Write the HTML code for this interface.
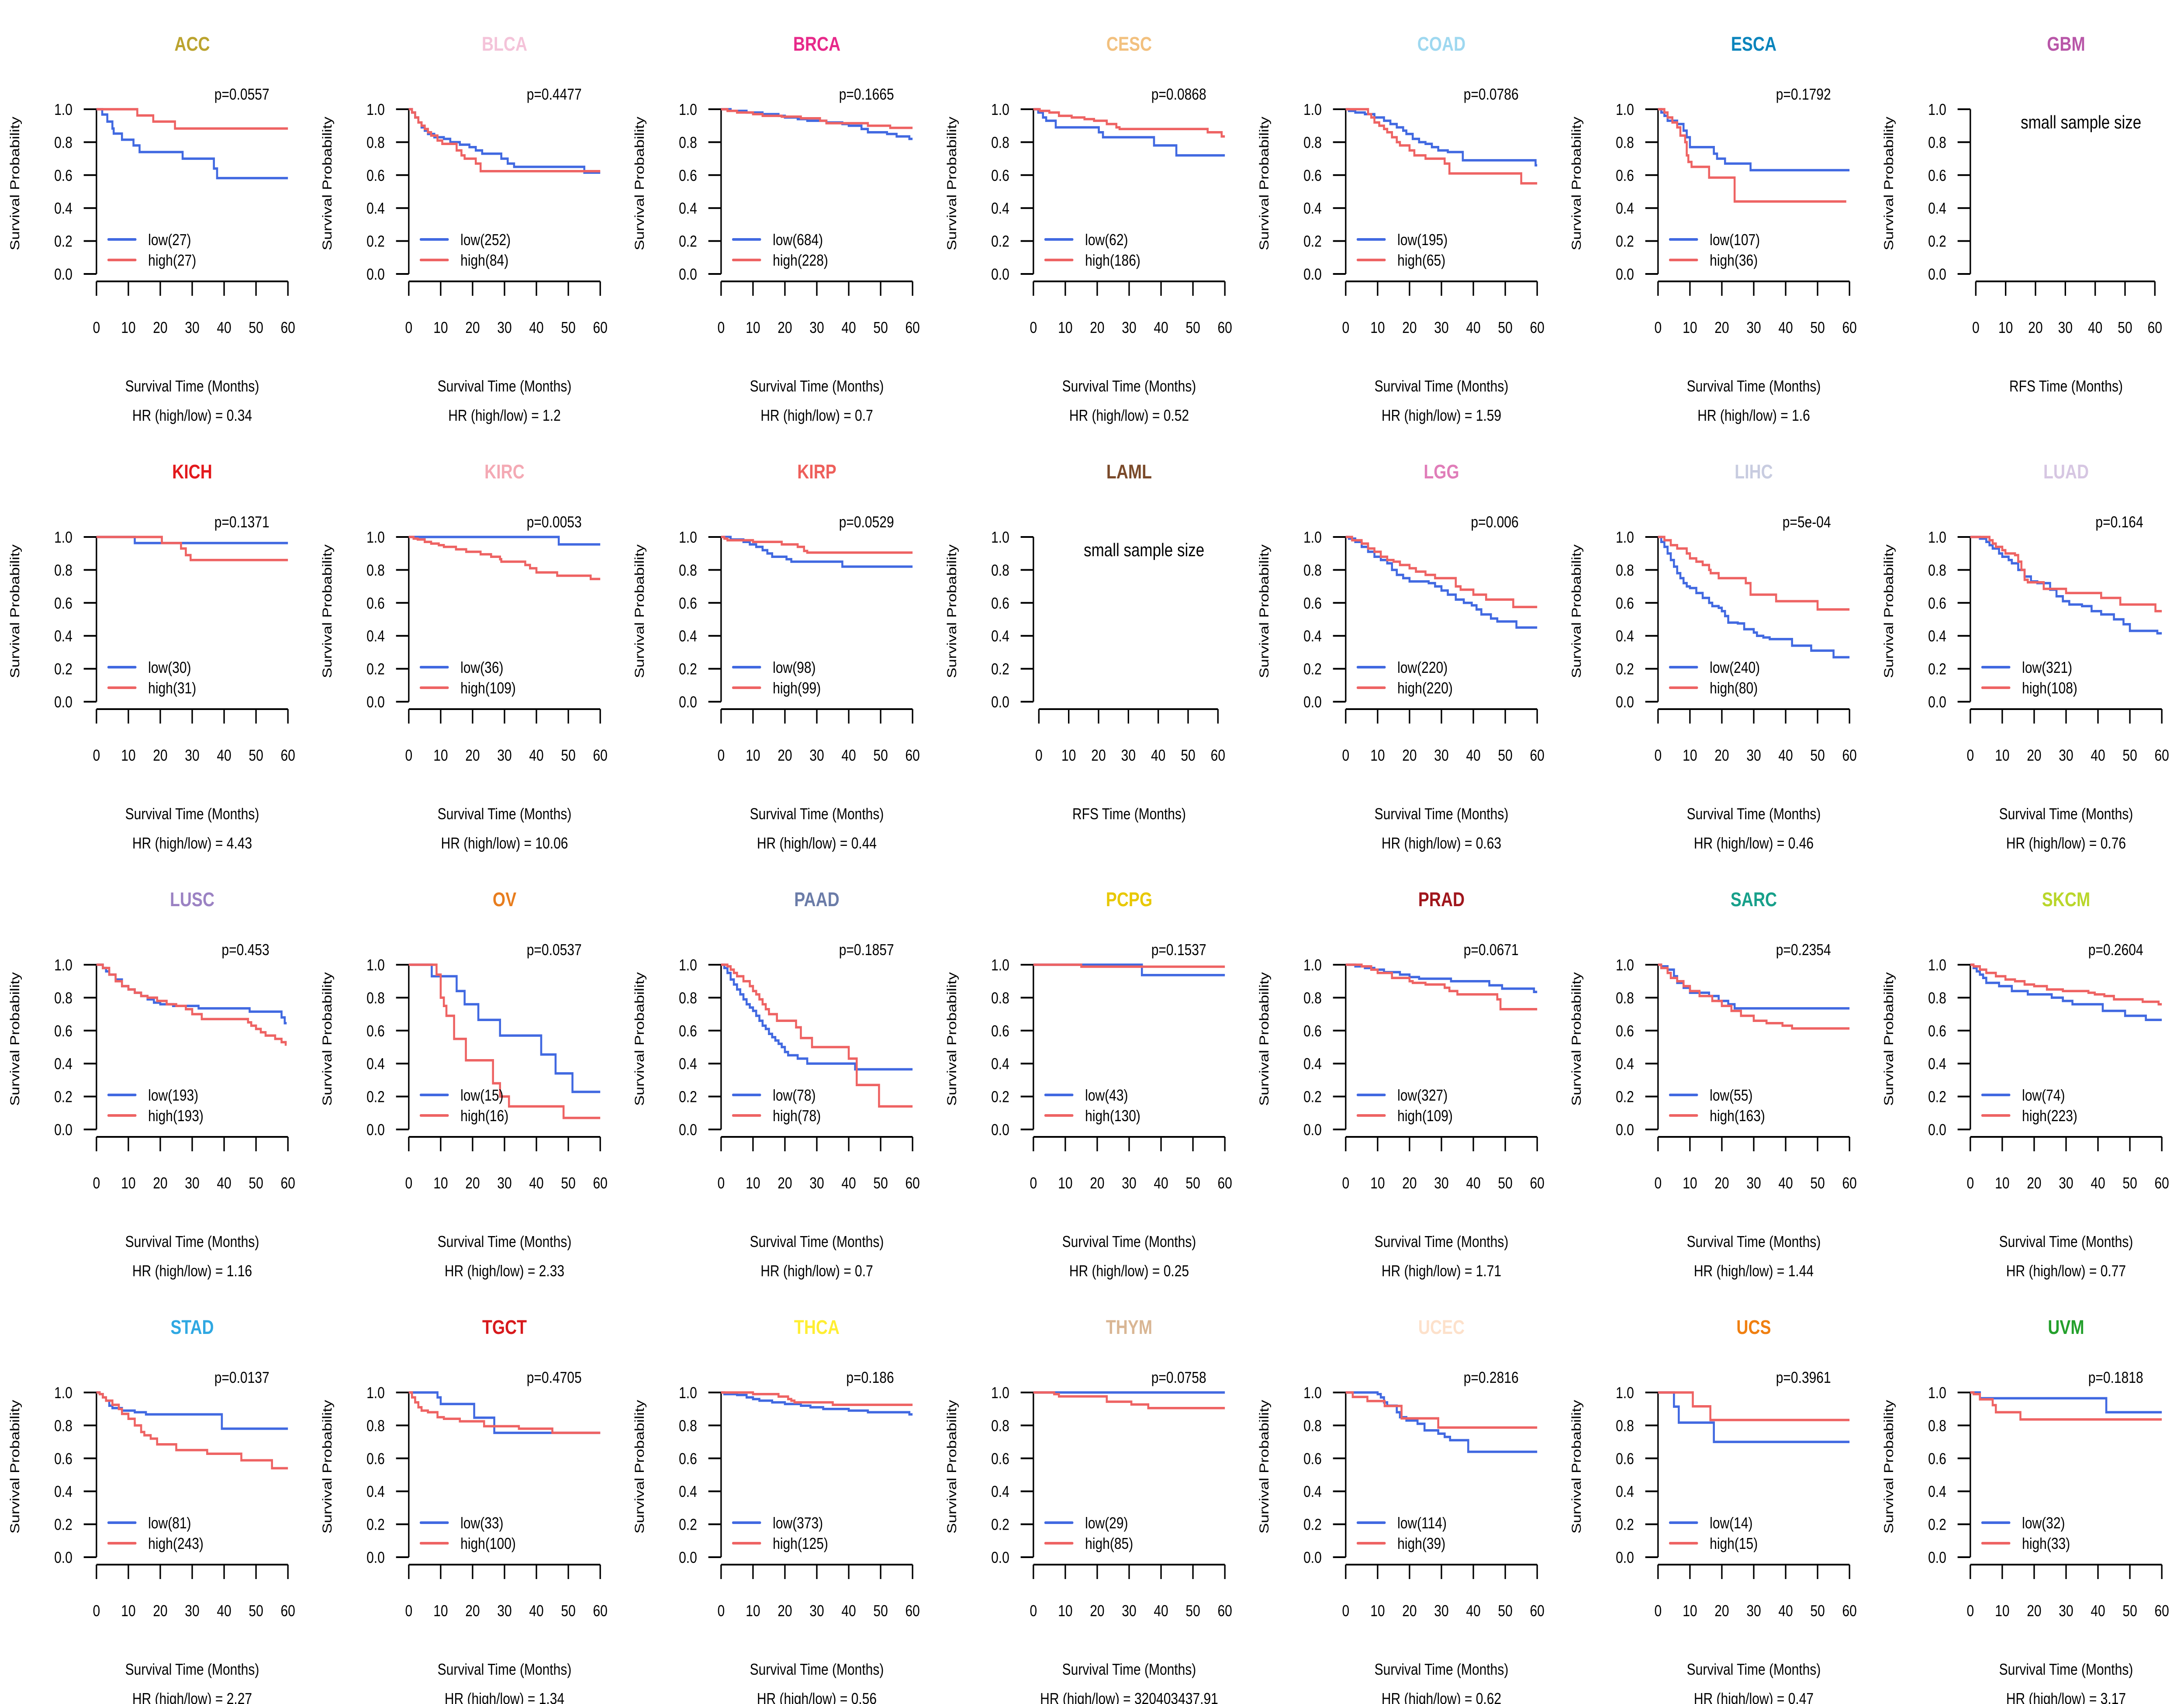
<!DOCTYPE html>
<html><head><meta charset="utf-8"><title>Survival curves</title>
<style>html,body{margin:0;padding:0;background:#fff;width:100%;height:100%;overflow:hidden}svg{display:block;width:100vw;height:100vh}text{font-family:"Liberation Sans",Arial,sans-serif}</style>
</head><body>
<svg id="chart" xmlns="http://www.w3.org/2000/svg" viewBox="0 0 6000 3900" preserveAspectRatio="none"></svg>
<script>
const cancers = ['ACC','BLCA','BRCA','CESC','COAD','ESCA','GBM','KICH','KIRC','KIRP','LAML','LGG','LIHC','LUAD','LUSC','OV','PAAD','PCPG','PRAD','SARC','SKCM','STAD','TGCT','THCA','THYM','UCEC','UCS','UVM'];
const titleColors = ['#BBA32E','#F4C3D9','#E7298A','#F2C07E','#9ED8F0','#0A84BC','#B856A8','#E3191C','#F4A9B4','#EE5F5B','#7A4A2A','#E07DB9','#C8CCE0','#D6C6E2','#9B82C3','#E87D1E','#6B7CA8','#E8C800','#A0161C','#17A08A','#B9D62A','#2FA8E2','#D7191C','#FFEE33','#D9B694','#FDE1CB','#F07F10','#24A02C'];
const pValues = ['0.0557','0.4477','0.1665','0.0868','0.0786','0.1792',null,'0.1371','0.0053','0.0529',null,'0.006','5e-04','0.164','0.453','0.0537','0.1857','0.1537','0.0671','0.2354','0.2604','0.0137','0.4705','0.186','0.0758','0.2816','0.3961','0.1818'];
const hrValues = ['0.34','1.2','0.7','0.52','1.59','1.6',null,'4.43','10.06','0.44',null,'0.63','0.46','0.76','1.16','2.33','0.7','0.25','1.71','1.44','0.77','2.27','1.34','0.56','320403437.91','0.62','0.47','3.17'];
const nLow = [27,252,684,62,195,107,null,30,36,98,null,220,240,321,193,15,78,43,327,55,74,81,33,373,29,114,14,32];
const nHigh = [27,84,228,186,65,36,null,31,109,99,null,220,80,108,193,16,78,130,109,163,223,243,100,125,85,39,15,33];
const xTicks = [0,10,20,30,40,50,60];
const yTicks = [0,0.2,0.4,0.6,0.8,1.0];
const lowCurves = [
 [[1.8,.968],[3.4,.925],[5,.883],[5.4,.852],[8,.815],[11.6,.78],[13.5,.74],[27,.70],[36.8,.64],[37.8,.582],[60,.582]],
 [[1,.98],[2,.95],[3,.92],[4,.89],[5,.87],[6,.85],[8,.83],[11,.82],[13,.80],[16,.785],[19,.77],[21,.75],[23,.73],[29,.70],[31,.67],[33,.65],[55,.615],[60,.615]],
 [[3,.99],[8,.98],[13,.97],[18,.96],[20,.95],[24,.94],[27,.93],[33,.92],[38,.91],[40,.90],[44,.88],[46,.86],[52,.85],[55,.835],[59,.82],[60,.82]],
 [[1.5,.98],[3,.95],[4,.93],[7,.89],[20.5,.86],[21.8,.83],[37.8,.78],[44.8,.72],[60,.72]],
 [[1,.99],[3,.98],[6,.97],[9,.95],[12,.93],[14,.91],[16,.89],[18,.87],[19,.85],[21,.82],[23,.80],[25,.79],[27,.77],[29,.75],[32,.74],[36.7,.69],[59.5,.66],[60,.66]],
 [[1,.98],[2,.96],[3,.93],[6,.91],[8,.87],[9,.83],[10,.77],[17.5,.73],[18.5,.70],[21,.67],[29,.63],[60,.63]],
 null,
 [[12,.963],[60,.963]],
 [[47,.955],[60,.955]],
 [[3,.985],[7,.97],[9,.955],[11,.94],[13,.92],[14.5,.90],[16,.88],[20.5,.865],[22,.85],[38,.82],[60,.82]],
 null,
 [[1,.99],[3,.97],[5,.94],[7,.91],[9,.88],[11,.86],[13,.84],[14.5,.80],[16,.77],[18,.75],[20,.73],[26,.72],[28,.70],[30,.675],[32,.65],[34.5,.62],[37,.60],[39.5,.585],[41,.56],[42.5,.53],[45.5,.505],[47.5,.487],[53.5,.45],[60,.45]],
 [[1,.97],[2,.94],[3,.90],[4,.86],[5,.82],[6,.78],[7,.75],[8,.72],[9,.70],[10,.69],[12,.66],[14,.63],[16,.60],[17,.58],[19,.57],[20,.55],[21,.52],[22,.48],[25,.475],[27,.44],[30,.42],[31,.40],[33,.39],[35,.38],[42,.34],[48,.31],[55,.27],[60,.27]],
 [[3,.99],[5,.97],[6,.95],[7,.93],[9,.90],[10,.88],[12,.86],[13,.84],[15,.80],[17,.76],[19,.73],[21,.72],[25,.68],[27,.64],[29,.61],[31,.59],[35,.58],[38,.55],[41,.53],[45,.50],[48,.47],[50,.43],[58.6,.415],[60,.415]],
 [[2,.98],[3,.96],[4,.94],[6,.91],[8,.87],[10,.85],[12,.83],[14,.81],[16,.79],[18,.77],[20,.76],[24,.75],[32,.735],[48,.715],[58,.68],[59,.645],[59.6,.645]],
 [[7.2,.93],[15,.84],[17.5,.76],[21.8,.665],[28.6,.57],[41.5,.455],[46,.34],[51.3,.228],[60,.228]],
 [[1,.98],[2,.95],[3,.91],[4,.88],[5,.85],[6,.82],[7,.79],[8,.76],[9,.74],[10,.72],[11,.69],[12,.66],[13,.63],[14,.61],[15,.58],[16,.56],[17,.54],[18,.52],[19,.50],[20,.47],[21,.45],[24,.43],[27,.40],[42,.365],[60,.365]],
 [[34,.937],[60,.937]],
 [[3,.99],[6,.98],[9,.97],[12,.955],[17,.94],[20,.925],[23,.915],[33,.90],[45,.875],[49,.855],[59,.835],[60,.835]],
 [[1,.99],[3,.97],[5,.93],[6,.89],[8,.86],[10,.83],[16,.81],[19,.78],[22,.76],[24,.735],[60,.735]],
 [[1,.98],[2,.96],[3,.94],[4,.92],[5,.89],[9,.87],[13,.84],[18,.82],[25.5,.80],[29,.78],[32,.76],[41.5,.72],[48.5,.69],[55,.665],[60,.665]],
 [[1,.99],[2,.97],[3,.95],[4,.92],[5,.905],[8,.89],[12,.88],[15.5,.867],[39.3,.78],[60,.78]],
 [[9,.97],[10,.93],[20.5,.847],[26.8,.755],[60,.755]],
 [[1,.99],[5,.985],[8,.97],[10,.96],[12,.95],[16,.94],[20,.93],[25,.92],[28,.91],[32,.90],[40,.89],[46,.88],[59,.867],[60,.867]],
 [[60,1]],
 [[10,.99],[11,.97],[12,.94],[13,.92],[16,.88],[17,.85],[19,.83],[22.5,.81],[24.7,.77],[29,.75],[31,.73],[32.7,.71],[38.4,.64],[60,.64]],
 [[5,.914],[6.5,.817],[17.5,.70],[60,.70]],
 [[3,.965],[42.6,.88],[60,.88]]
];
const highCurves = [
 [[12.8,.962],[17.8,.925],[24.6,.883],[60,.883]],
 [[1,.98],[2,.95],[3,.92],[4,.90],[5,.88],[6,.86],[7,.84],[9,.81],[10.5,.79],[15,.75],[16.5,.72],[17.5,.70],[21,.67],[22.5,.624],[60,.624]],
 [[2,.99],[5,.98],[10,.97],[13,.96],[19,.955],[25,.945],[31,.93],[33,.915],[46,.90],[53,.887],[60,.887]],
 [[2,.99],[5,.98],[8,.96],[12,.95],[16,.94],[19,.93],[23,.91],[26,.89],[27,.88],[54.6,.86],[59,.835],[60,.835]],
 [[7,.97],[8,.95],[9,.92],[10.5,.90],[12,.88],[13,.86],[14.5,.83],[16,.80],[17,.78],[20,.75],[21.5,.72],[25,.70],[31,.67],[32.5,.61],[55,.55],[60,.55]],
 [[2,.98],[3,.95],[4.5,.92],[6,.89],[7,.84],[8.5,.80],[9,.72],[9.5,.68],[10.5,.65],[16,.585],[24,.44],[59,.44]],
 null,
 [[20.5,.963],[26.5,.93],[28,.89],[29.5,.86],[60,.86]],
 [[1.5,.99],[2.8,.985],[5,.97],[7,.96],[9.4,.95],[11,.94],[14.8,.925],[18,.91],[22.5,.895],[25.8,.88],[28.6,.865],[29,.85],[36.5,.83],[38,.81],[40,.785],[46.5,.765],[57,.745],[60,.745]],
 [[1,.99],[2,.98],[10,.97],[19,.955],[24,.94],[26,.915],[27,.905],[60,.905]],
 null,
 [[2,.98],[5,.96],[7,.93],[9,.91],[11,.88],[13,.86],[15,.85],[17,.83],[20,.81],[22,.79],[25,.77],[28,.75],[34.5,.70],[36,.68],[40,.65],[44,.62],[52.5,.575],[60,.575]],
 [[2,.98],[4,.95],[6,.93],[9,.90],[10,.87],[12,.85],[14,.83],[16,.80],[16.5,.78],[19,.75],[27.5,.72],[29,.65],[37,.61],[50,.56],[60,.56]],
 [[6,.98],[7,.96],[8,.94],[10,.92],[11,.90],[14,.89],[15,.85],[16,.80],[17,.74],[18,.725],[23,.685],[30,.66],[41,.63],[47,.59],[58,.55],[60,.55]],
 [[2,.98],[4,.94],[6,.90],[8,.87],[10,.85],[12,.83],[14,.81],[16,.80],[19,.78],[22,.76],[25,.75],[28,.73],[30,.70],[33,.67],[47.5,.65],[48.5,.63],[50,.61],[51.5,.59],[53,.57],[56,.55],[58,.53],[59.3,.515],[59.6,.515]],
 [[8.7,.94],[10,.80],[11,.75],[11.8,.69],[14.2,.55],[17.9,.42],[26.4,.28],[28.6,.20],[31.4,.14],[48.5,.07],[60,.07]],
 [[2,.99],[3,.97],[4,.95],[5,.93],[7,.90],[9,.87],[10,.84],[11,.82],[12,.79],[13,.76],[14,.73],[15,.70],[17.5,.66],[23.5,.62],[25,.555],[28.5,.50],[40,.43],[42.5,.27],[49.5,.14],[60,.14]],
 [[15,.988],[60,.988]],
 [[5,.99],[8,.97],[10,.95],[14.5,.92],[20,.90],[21,.89],[25,.88],[31,.86],[32.5,.84],[35,.82],[47.5,.79],[48.5,.73],[60,.73]],
 [[1,.98],[3,.95],[4,.92],[6,.90],[8,.87],[10,.84],[13,.81],[17,.78],[20,.75],[23,.72],[26,.69],[30,.66],[34,.645],[39,.63],[42,.613],[60,.613]],
 [[1,.99],[3,.97],[5,.95],[8,.93],[11,.91],[14,.90],[17,.88],[20,.87],[24,.85],[29,.84],[37,.83],[39,.82],[42,.81],[45,.79],[54,.775],[59,.76],[60,.76]],
 [[1,.99],[2,.97],[3,.95],[5,.925],[7,.90],[8,.87],[10,.84],[12,.80],[14,.76],[15,.74],[17,.72],[19,.685],[25,.65],[34.7,.628],[45.4,.588],[55,.54],[60,.54]],
 [[1,.97],[2,.94],[3,.91],[4,.89],[6,.88],[9,.85],[11,.84],[16,.825],[23.6,.795],[34.5,.78],[45,.755],[60,.755]],
 [[10,.99],[18,.975],[21,.96],[22,.95],[23,.94],[35,.925],[60,.925]],
 [[6.5,.99],[8,.976],[23,.944],[30.7,.927],[36,.905],[60,.905]],
 [[2.2,.973],[6.8,.948],[12.2,.918],[17.5,.843],[29,.787],[60,.787]],
 [[10.9,.916],[16.4,.833],[60,.833]],
 [[1,.99],[3,.958],[7,.923],[8,.88],[15.7,.836],[60,.836]]
];

const NS = 'http://www.w3.org/2000/svg';
const svg = document.getElementById('chart');
const COLS = 7, COL_PITCH = 858, ROW_PITCH = 979;
const AX0 = 265, Y1 = 250, PH = 377, PW = 526;
const BLUE = '#4169E1', RED = '#EE6363';

function mk(tag, attrs, parent, text) {
  const el = document.createElementNS(NS, tag);
  for (const k in attrs) el.setAttribute(k, attrs[k]);
  if (text !== undefined) el.textContent = text;
  parent.appendChild(el);
  return el;
}
function stepPath(curve, sx, sy) {
  let d = 'M' + sx(0) + ' ' + sy(1);
  let prev = 1;
  for (const [t, s] of curve) {
    d += ' L' + sx(t).toFixed(1) + ' ' + sy(prev).toFixed(1);
    d += ' L' + sx(t).toFixed(1) + ' ' + sy(s).toFixed(1);
    prev = s;
  }
  return d;
}

cancers.forEach((name, i) => {
  const c = i % COLS, r = Math.floor(i / COLS);
  const ax = AX0 + c * COL_PITCH;
  const y1 = Y1 + r * ROW_PITCH;
  const y0 = y1 + PH;
  const small = pValues[i] === null;
  const xs = small ? ax + 15 : ax;
  const xw = small ? 492 : PW;
  const sx = t => xs + t / 60 * xw;
  const sy = s => y0 - s * PH;
  const g = mk('g', {}, svg);
  
  

  const title = mk('text', {x: ax + 263, y: y1 - 134, 'text-anchor': 'middle', 'font-size': 45, 'font-weight': 'bold', fill: titleColors[i]}, g, name);
  
  

  const ylab = mk('text', {x: 0, y: 0, transform: 'translate(' + (ax - 212) + ',' + (y1 + 170) + ') rotate(-90)', 'text-anchor': 'middle', 'font-size': 36, fill: '#000'}, g, 'Survival Probability');
  
  

  const yax = mk('line', {x1: ax, y1: y1, x2: ax, y2: y0, stroke: '#000', 'stroke-width': 4}, g);
  
  
  yTicks.forEach(v => {
    const tk = mk('line', {x1: ax - 35, y1: sy(v), x2: ax, y2: sy(v), stroke: '#000', 'stroke-width': 4}, g);
    
    
    const tl = mk('text', {x: ax - 66, y: sy(v) + 13, 'text-anchor': 'end', 'font-size': 36}, g, v.toFixed(1));
    
    
  });
  const xaxY = y0 + 17;
  const xax = mk('line', {x1: sx(0), y1: xaxY, x2: sx(60), y2: xaxY, stroke: '#000', 'stroke-width': 4}, g);
  
  
  xTicks.forEach(v => {
    const tk = mk('line', {x1: sx(v), y1: xaxY, x2: sx(v), y2: xaxY + 33, stroke: '#000', 'stroke-width': 4}, g);
    
    
    const tl = mk('text', {x: sx(v), y: y1 + 512, 'text-anchor': 'middle', 'font-size': 36}, g, String(v));
    
    
  });
  const xlab = mk('text', {x: ax + 263, y: y1 + 646, 'text-anchor': 'middle', 'font-size': 36}, g, small ? 'RFS Time (Months)' : 'Survival Time (Months)');
  
  

  if (small) {
    const ss = mk('text', {x: ax + 304, y: y1 + 44, 'text-anchor': 'middle', 'font-size': 42}, g, 'small sample size');
    
    
    return;
  }
  const hr = mk('text', {x: ax + 263, y: y1 + 713, 'text-anchor': 'middle', 'font-size': 36, 'xml:space': 'preserve'}, g, 'HR (high/low) =  ' + hrValues[i]);
  
  
  const pv = mk('text', {x: ax + 475, y: y1 - 22, 'text-anchor': 'end', 'font-size': 36}, g, 'p=' + pValues[i]);
  
  

  const lowPath = mk('path', {d: stepPath(lowCurves[i], sx, sy), fill: 'none', stroke: BLUE, 'stroke-width': 5.5}, g);
  
  
  const highPath = mk('path', {d: stepPath(highCurves[i], sx, sy), fill: 'none', stroke: RED, 'stroke-width': 5.5}, g);
  
  

  const leg = mk('g', {}, g);
  
  
  [[BLUE, 'low(' + nLow[i] + ')', 298], [RED, 'high(' + nHigh[i] + ')', 345]].forEach(([col, lab, dy]) => {
    const ln = mk('line', {x1: ax + 33, y1: y1 + dy, x2: ax + 107, y2: y1 + dy, stroke: col, 'stroke-width': 6, 'stroke-linecap': 'round'}, leg);
    
    
    const tx = mk('text', {x: ax + 142, y: y1 + dy + 13, 'font-size': 36}, leg, lab);
    
    
  });
});
</script>
</body></html>
